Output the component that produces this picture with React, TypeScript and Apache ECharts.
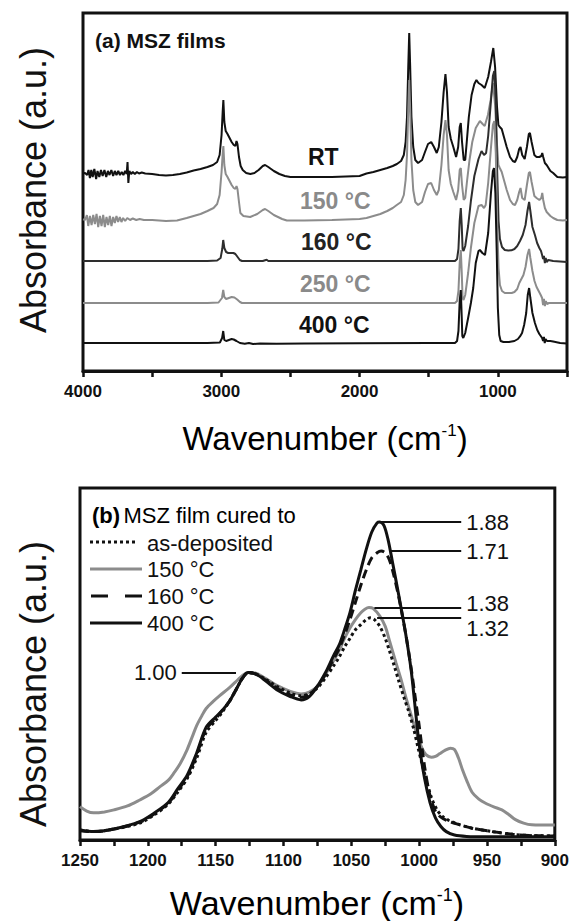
import React, { useEffect, useRef } from "react";
import * as echarts from "echarts";

const FONT = '"Liberation Sans", Arial, Helvetica, sans-serif';

// ---------- Panel (a): full FTIR spectra, [wavenumber, absorbance above own baseline] ----------
const panelALabels = ["RT", "150 °C", "160 °C", "250 °C", "400 °C"];
const panelAOffsets = [1.94, 1.51, 1.1, 0.68, 0.28];
const panelAColors = ["#111111", "#8c8c8c", "#2e2e2e", "#8c8c8c", "#111111"];

const rtSpectrum = [
  [4000, 0.037], [3985, 0.04], [3970, 0.02], [3960, 0.07], [3950, -0.01], [3940, 0.07], [3930, 0.0], [3918, 0.08],
  [3905, -0.02], [3895, 0.06], [3882, 0.0], [3870, 0.07], [3858, 0.01], [3845, 0.07], [3832, 0.0], [3820, 0.06],
  [3808, 0.02], [3795, 0.07], [3782, 0.01], [3770, 0.06], [3758, 0.02], [3745, 0.06], [3733, 0.02], [3720, 0.05],
  [3708, 0.02], [3695, 0.06], [3684, 0.03], [3678, 0.15], [3672, -0.06], [3665, 0.06], [3652, 0.03], [3640, 0.05],
  [3625, 0.03], [3610, 0.05], [3595, 0.035], [3575, 0.045], [3550, 0.035], [3500, 0.03], [3450, 0.02], [3400, 0.015],
  [3350, 0.02], [3300, 0.03], [3250, 0.045], [3200, 0.065], [3150, 0.08], [3100, 0.1], [3060, 0.12], [3030, 0.15],
  [3012, 0.22], [2998, 0.42], [2990, 0.65], [2985, 0.77], [2978, 0.55], [2968, 0.46], [2955, 0.43], [2940, 0.39],
  [2925, 0.35], [2910, 0.32], [2898, 0.31], [2890, 0.36], [2883, 0.33], [2872, 0.2], [2860, 0.11], [2845, 0.07],
  [2820, 0.04], [2790, 0.03], [2760, 0.04], [2730, 0.07], [2700, 0.11], [2683, 0.12], [2660, 0.1], [2620, 0.06],
  [2580, 0.03], [2540, 0.01], [2500, 0.0], [2400, 0.0], [2300, 0.0], [2200, 0.0], [2100, 0.005], [2000, 0.01],
  [1950, 0.035], [1900, 0.05], [1850, 0.07], [1800, 0.09], [1760, 0.11], [1730, 0.13], [1700, 0.16], [1680, 0.22],
  [1667, 0.35], [1657, 0.6], [1648, 1.1], [1641, 1.44], [1634, 1.1], [1625, 0.6], [1612, 0.3], [1597, 0.17],
  [1577, 0.14], [1548, 0.17], [1527, 0.25], [1505, 0.33], [1482, 0.35], [1462, 0.3], [1442, 0.24], [1427, 0.3],
  [1408, 0.55], [1392, 0.85], [1379, 1.03], [1368, 0.85], [1356, 0.5], [1340, 0.38], [1322, 0.3], [1302, 0.2],
  [1287, 0.3], [1276, 0.5], [1268, 0.54], [1259, 0.35], [1247, 0.17], [1236, 0.17], [1225, 0.35], [1210, 0.6],
  [1190, 0.82], [1170, 0.93], [1155, 0.97], [1140, 0.94], [1118, 0.92], [1095, 0.89], [1070, 1.0], [1050, 1.15],
  [1033, 1.29], [1020, 1.1], [1006, 0.7], [996, 0.52], [986, 0.5], [972, 0.48], [956, 0.4], [936, 0.3],
  [912, 0.2], [892, 0.16], [876, 0.15], [860, 0.2], [846, 0.28], [836, 0.3], [824, 0.22], [806, 0.18],
  [790, 0.3], [776, 0.43], [768, 0.44], [756, 0.35], [736, 0.22], [720, 0.2], [700, 0.2], [686, 0.21],
  [679, 0.24], [672, 0.2], [660, 0.14], [647, 0.12], [620, 0.06], [600, 0.04], [570, 0.0], [530, -0.005], [500, 0.0],
];

const c150Spectrum = [
  [4000, 0.007], [3985, 0.0], [3972, 0.05], [3962, -0.06], [3950, 0.04], [3938, -0.05], [3926, 0.05], [3914, -0.04],
  [3902, 0.06], [3890, -0.07], [3878, 0.04], [3866, -0.06], [3854, 0.05], [3842, -0.07], [3830, 0.03], [3818, -0.05],
  [3806, 0.04], [3794, -0.06], [3782, 0.03], [3770, -0.03], [3758, 0.04], [3746, -0.02], [3734, 0.03], [3722, -0.02],
  [3710, 0.02], [3695, -0.01], [3680, 0.02], [3660, 0.0], [3640, 0.015], [3615, 0.0], [3590, 0.01], [3560, 0.0],
  [3500, 0.0], [3400, -0.01], [3320, -0.005], [3250, 0.02], [3200, 0.04], [3150, 0.06], [3100, 0.09], [3056, 0.12],
  [3030, 0.16], [3012, 0.25], [2998, 0.48], [2990, 0.66], [2985, 0.74], [2978, 0.55], [2968, 0.46], [2955, 0.43],
  [2940, 0.39], [2925, 0.35], [2910, 0.32], [2898, 0.31], [2890, 0.34], [2883, 0.31], [2872, 0.18], [2862, 0.07],
  [2840, 0.04], [2791, 0.03], [2740, 0.06], [2700, 0.1], [2683, 0.11], [2660, 0.09], [2620, 0.05], [2560, 0.01],
  [2526, -0.005], [2400, -0.005], [2200, 0.0], [2000, 0.01], [1950, 0.02], [1900, 0.04], [1850, 0.06], [1800, 0.09],
  [1760, 0.12], [1731, 0.15], [1700, 0.18], [1680, 0.25], [1667, 0.4], [1657, 0.65], [1648, 1.1], [1641, 1.4],
  [1634, 1.1], [1625, 0.6], [1612, 0.3], [1597, 0.18], [1577, 0.15], [1548, 0.18], [1527, 0.28], [1505, 0.36],
  [1482, 0.37], [1462, 0.3], [1442, 0.25], [1427, 0.3], [1408, 0.55], [1392, 0.85], [1379, 1.0], [1368, 0.85],
  [1356, 0.5], [1340, 0.36], [1322, 0.28], [1302, 0.2], [1287, 0.3], [1276, 0.5], [1268, 0.52], [1259, 0.35],
  [1247, 0.2], [1236, 0.22], [1222, 0.4], [1205, 0.6], [1185, 0.78], [1160, 0.92], [1130, 0.99], [1110, 0.96],
  [1095, 0.94], [1072, 1.05], [1052, 1.2], [1035, 1.37], [1020, 1.15], [1006, 0.75], [996, 0.55], [986, 0.52],
  [972, 0.48], [956, 0.4], [936, 0.3], [912, 0.2], [892, 0.16], [876, 0.15], [860, 0.2], [846, 0.28],
  [836, 0.32], [824, 0.22], [806, 0.2], [790, 0.35], [776, 0.47], [768, 0.48], [756, 0.38], [736, 0.24],
  [720, 0.22], [700, 0.2], [686, 0.22], [679, 0.27], [672, 0.2], [660, 0.12], [647, 0.08], [620, 0.04],
  [600, 0.02], [570, 0.0], [530, -0.005], [500, 0.0],
];

const c160Spectrum = [
  [4000, 0.0], [3500, 0.0], [3100, 0.0], [3030, 0.005], [3005, 0.03], [2993, 0.12], [2986, 0.21], [2978, 0.13],
  [2965, 0.09], [2950, 0.08], [2930, 0.08], [2912, 0.08], [2898, 0.07], [2882, 0.04], [2866, 0.01], [2850, 0.0],
  [2700, 0.0], [2672, 0.012], [2660, 0.0], [1400, 0.0], [1310, 0.0], [1295, 0.02], [1285, 0.12], [1276, 0.4],
  [1268, 0.53], [1261, 0.35], [1255, 0.12], [1248, 0.1], [1236, 0.15], [1215, 0.35], [1195, 0.6], [1170, 0.85],
  [1140, 1.02], [1118, 1.1], [1100, 1.06], [1085, 1.08], [1070, 1.25], [1050, 1.6], [1036, 1.85], [1026, 1.9],
  [1015, 1.6], [1005, 0.9], [995, 0.4], [985, 0.22], [970, 0.14], [950, 0.11], [925, 0.105], [902, 0.107],
  [880, 0.12], [860, 0.15], [840, 0.2], [820, 0.26], [800, 0.36], [786, 0.5], [774, 0.59], [765, 0.5],
  [750, 0.34], [732, 0.26], [716, 0.18], [700, 0.13], [688, 0.1], [680, 0.06], [673, 0.02], [667, 0.05],
  [660, -0.02], [654, 0.03], [647, -0.01], [635, 0.01], [600, 0.0], [550, -0.005], [500, -0.01],
];

const c250Spectrum = [
  [4000, 0.0], [3500, 0.0], [3100, 0.0], [3020, 0.005], [2995, 0.05], [2986, 0.13], [2978, 0.06], [2965, 0.04],
  [2945, 0.05], [2925, 0.06], [2905, 0.055], [2885, 0.035], [2865, 0.01], [2850, 0.0], [1400, 0.0], [1310, 0.0],
  [1295, 0.02], [1285, 0.12], [1276, 0.4], [1268, 0.53], [1261, 0.3], [1255, 0.05], [1248, 0.03], [1236, 0.08],
  [1215, 0.3], [1195, 0.55], [1170, 0.8], [1140, 0.97], [1118, 0.98], [1100, 0.95], [1088, 0.98], [1070, 1.2],
  [1050, 1.55], [1036, 1.78], [1026, 1.82], [1015, 1.5], [1005, 0.8], [995, 0.35], [985, 0.18], [970, 0.12],
  [950, 0.1], [920, 0.1], [900, 0.1], [880, 0.11], [860, 0.14], [845, 0.2], [830, 0.24], [815, 0.28],
  [800, 0.36], [786, 0.48], [774, 0.54], [765, 0.45], [750, 0.32], [735, 0.22], [720, 0.16], [705, 0.12],
  [690, 0.08], [680, 0.05], [673, -0.02], [667, 0.04], [660, -0.03], [653, 0.02], [645, -0.01], [630, 0.0],
  [600, 0.0], [500, 0.0],
];

const c400Spectrum = [
  [4000, 0.0], [3500, 0.0], [3100, 0.0], [3010, 0.005], [2994, 0.05], [2986, 0.12], [2978, 0.03], [2965, 0.02],
  [2945, 0.03], [2925, 0.04], [2910, 0.035], [2890, 0.02], [2865, 0.0], [2830, -0.008], [2800, 0.0], [2770, -0.01],
  [2720, -0.005], [2600, -0.007], [2400, -0.005], [2000, -0.003], [1500, 0.0], [1310, 0.0], [1295, 0.02], [1285, 0.12],
  [1276, 0.42], [1268, 0.53], [1261, 0.25], [1257, 0.07], [1250, 0.05], [1236, 0.1], [1215, 0.25], [1195, 0.4],
  [1178, 0.55], [1160, 0.8], [1140, 0.92], [1130, 0.93], [1112, 0.9], [1093, 0.88], [1070, 1.1], [1050, 1.5],
  [1036, 1.72], [1028, 1.75], [1018, 1.5], [1008, 0.9], [1000, 0.35], [990, 0.08], [980, 0.02], [960, 0.01],
  [920, 0.01], [880, 0.02], [855, 0.04], [840, 0.066], [825, 0.1], [810, 0.18], [795, 0.3], [784, 0.48],
  [774, 0.55], [765, 0.45], [750, 0.3], [732, 0.2], [715, 0.13], [700, 0.09], [690, 0.07], [680, 0.05],
  [673, 0.02], [667, 0.06], [661, 0.0], [655, 0.04], [645, 0.02], [620, 0.02], [600, 0.015], [550, 0.0], [500, -0.005],
];

const panelASpectra = [rtSpectrum, c150Spectrum, c160Spectrum, c250Spectrum, c400Spectrum];

// ---------- Panel (b): Si-O-Si region normalised to the 1130 cm-1 band ----------
const panelBNames = ["150 °C", "as-deposited", "160 °C", "400 °C"];

const b150 = [
  [1250, 0.216], [1245, 0.19], [1240, 0.18], [1232, 0.185], [1225, 0.197], [1215, 0.22], [1206, 0.255], [1198, 0.29],
  [1191, 0.333], [1185, 0.37], [1181, 0.41], [1176, 0.47], [1171, 0.55], [1167, 0.63], [1164, 0.69], [1160, 0.75],
  [1157, 0.79], [1152, 0.83], [1147, 0.865], [1140, 0.91], [1134, 0.955], [1130, 0.985], [1126, 1.0], [1120, 0.995],
  [1113, 0.965], [1105, 0.925], [1095, 0.89], [1087, 0.875], [1081, 0.885], [1075, 0.92], [1069, 0.99], [1063, 1.07],
  [1059, 1.13], [1055, 1.2], [1051, 1.26], [1047, 1.31], [1043, 1.35], [1040, 1.37], [1037, 1.38], [1034, 1.375],
  [1029, 1.33], [1025, 1.27], [1022, 1.19], [1017, 1.055], [1013, 0.95], [1010, 0.86], [1007, 0.78], [1004, 0.7],
  [1001, 0.625], [998, 0.56], [995, 0.52], [991, 0.505], [988, 0.51], [985, 0.525], [981, 0.545], [977, 0.558],
  [974, 0.55], [971, 0.5], [968, 0.43], [965, 0.37], [961, 0.3], [956, 0.26], [951, 0.236], [945, 0.215],
  [939, 0.197], [934, 0.17], [929, 0.14], [923, 0.12], [917, 0.11], [910, 0.109], [900, 0.109],
];

const bAsDeposited = [
  [1250, 0.08], [1240, 0.07], [1225, 0.085], [1206, 0.12], [1195, 0.17], [1185, 0.23], [1178, 0.3], [1171, 0.38],
  [1164, 0.5], [1157, 0.65], [1150, 0.72], [1145, 0.77], [1140, 0.83], [1135, 0.9], [1130, 0.97], [1126, 1.0],
  [1120, 0.99], [1113, 0.96], [1105, 0.92], [1095, 0.88], [1087, 0.865], [1081, 0.875], [1075, 0.91], [1069, 0.97],
  [1063, 1.04], [1059, 1.09], [1055, 1.15], [1051, 1.2], [1047, 1.25], [1043, 1.28], [1039, 1.31], [1036, 1.32],
  [1033, 1.31], [1029, 1.27], [1025, 1.2], [1022, 1.13], [1018, 1.03], [1015, 0.95], [1011, 0.85], [1008, 0.78],
  [1004, 0.67], [1001, 0.567], [998, 0.47], [995, 0.38], [991, 0.27], [987, 0.2], [983, 0.16], [978, 0.135],
  [970, 0.11], [961, 0.09], [946, 0.07], [931, 0.054], [915, 0.046], [900, 0.045],
];

const b160 = [
  [1250, 0.075], [1240, 0.07], [1225, 0.085], [1206, 0.125], [1195, 0.175], [1185, 0.235], [1178, 0.31], [1171, 0.39],
  [1164, 0.52], [1157, 0.67], [1150, 0.73], [1145, 0.78], [1140, 0.83], [1135, 0.9], [1130, 0.97], [1126, 1.0],
  [1120, 0.99], [1113, 0.955], [1105, 0.91], [1095, 0.87], [1087, 0.855], [1081, 0.87], [1075, 0.92], [1069, 0.99],
  [1063, 1.08], [1059, 1.14], [1055, 1.22], [1051, 1.31], [1047, 1.41], [1043, 1.51], [1039, 1.6], [1035, 1.67],
  [1031, 1.7], [1028, 1.71], [1025, 1.7], [1022, 1.66], [1019, 1.58], [1015, 1.44], [1010, 1.23], [1006, 1.03],
  [1003, 0.86], [1000, 0.69], [996, 0.45], [992, 0.28], [988, 0.19], [984, 0.155], [978, 0.13], [970, 0.11],
  [961, 0.09], [946, 0.07], [931, 0.054], [915, 0.046], [900, 0.045],
];

const b400 = [
  [1250, 0.08], [1240, 0.07], [1225, 0.085], [1206, 0.128], [1195, 0.18], [1185, 0.24], [1178, 0.32], [1171, 0.4],
  [1164, 0.53], [1157, 0.68], [1150, 0.74], [1145, 0.78], [1140, 0.83], [1135, 0.9], [1130, 0.97], [1126, 1.0],
  [1120, 0.99], [1113, 0.95], [1105, 0.9], [1095, 0.86], [1087, 0.84], [1081, 0.86], [1075, 0.92], [1069, 1.0],
  [1063, 1.1], [1059, 1.16], [1055, 1.25], [1051, 1.35], [1047, 1.48], [1043, 1.6], [1039, 1.72], [1035, 1.82],
  [1031, 1.875], [1029, 1.88], [1026, 1.86], [1023, 1.78], [1020, 1.66], [1015, 1.45], [1010, 1.23], [1006, 1.02],
  [1003, 0.8], [1000, 0.58], [996, 0.38], [992, 0.24], [988, 0.15], [984, 0.1], [980, 0.07], [974, 0.05],
  [965, 0.042], [950, 0.04], [925, 0.04], [900, 0.04],
];

// peak-height annotations: value, start and end wavenumber of the leader line, series it belongs to
const annotValues = [1.88, 1.71, 1.38, 1.32, 1.0];
const annotStart = [1029, 1021, 1033, 1031, 1135];
const annotEnd = [969, 969, 969, 969, 1175];
const annotSeries = [3, 2, 0, 1, 3];

const panelAXTicks = { min: 500, max: 4000, step: 500, labelStep: 1000 };
const panelBXTicks = { min: 900, max: 1250, step: 25, labelStep: 50 };

function buildOption() {
  const black = "#111111";
  const axisCommon = (gridIndex: number, t: { min: number; max: number; step: number; labelStep: number }) => ({
    type: "value",
    gridIndex,
    min: t.min,
    max: t.max,
    interval: t.step,
    inverse: true,
    axisLine: { show: true, onZero: false, lineStyle: { color: black, width: 3 } },
    axisTick: { show: true, inside: false, length: 6, lineStyle: { color: black, width: 2.5 } },
    splitLine: { show: false },
    axisLabel: {
      show: true,
      showMinLabel: true,
      showMaxLabel: true,
      margin: 12,
      fontFamily: FONT,
      fontSize: 17,
      fontWeight: "bold",
      color: black,
      formatter: (v: number) => (v % t.labelStep === 0 ? String(v) : ""),
    },
  });

  const hiddenY = (gridIndex: number, min: number, max: number) => ({
    type: "value",
    gridIndex,
    min,
    max,
    axisLine: { show: false },
    axisTick: { show: false },
    axisLabel: { show: false },
    splitLine: { show: false },
  });

  const seriesA = panelASpectra.map((spec, i) => ({
    type: "line",
    name: panelALabels[i],
    xAxisIndex: 0,
    yAxisIndex: 0,
    showSymbol: false,
    symbol: "none",
    silent: true,
    lineStyle: { color: panelAColors[i], width: 2 },
    data: spec.map(([w, v]) => [w, panelAOffsets[i] + v]),
  }));

  const bStyles = [
    { data: b150, color: "#8c8c8c", type: "solid" as any },
    { data: bAsDeposited, color: black, type: [3, 3] as any },
    { data: b160, color: black, type: [9, 5] as any },
    { data: b400, color: black, type: "solid" as any },
  ];

  // label vertical shift for each series' annotations (text placed slightly off its leader line)
  const labelShape: Record<number, { formatter: string; lineHeight: number }> = {
    0: { formatter: "{b}\n ", lineHeight: 8 },
    1: { formatter: "\n{b}", lineHeight: 22 },
    2: { formatter: "{b}", lineHeight: 22 },
    3: { formatter: "{b}", lineHeight: 22 },
  };

  const seriesB = bStyles.map((s, i) => {
    const marks = annotValues
      .map((v, k) => ({ v, k }))
      .filter(({ k }) => annotSeries[k] === i)
      .map(({ v, k }) => [
        { name: v.toFixed(2), coord: [annotStart[k], v] },
        { coord: [annotEnd[k], v] },
      ]);
    return {
      type: "line",
      name: panelBNames[i],
      xAxisIndex: 1,
      yAxisIndex: 1,
      showSymbol: false,
      symbol: "none",
      silent: true,
      smooth: 0.3,
      z: 2 + i,
      lineStyle: { color: s.color, width: 3, type: s.type },
      data: s.data,
      markLine: marks.length
        ? {
            silent: true,
            symbol: ["none", "none"],
            animation: false,
            lineStyle: { color: black, width: 2, type: "solid" },
            label: {
              show: true,
              position: "end",
              distance: 5,
              formatter: labelShape[i].formatter,
              lineHeight: labelShape[i].lineHeight,
              fontFamily: FONT,
              fontSize: 22,
              color: black,
            },
            emphasis: { disabled: true },
            data: marks,
          }
        : undefined,
    };
  });

  const txt = (text: string, x: number, y: number, opts: any = {}) => ({
    type: "text",
    x,
    y,
    silent: true,
    style: {
      text,
      fontFamily: FONT,
      fontSize: 22,
      fill: black,
      textAlign: "left",
      textVerticalAlign: "middle",
      ...opts,
    },
  });

  const lineEl = (x1: number, x2: number, y: number, stroke: string, dash?: number[]) => ({
    type: "line",
    silent: true,
    shape: { x1, y1: y, x2, y2: y },
    style: { stroke, lineWidth: 3, lineDash: dash },
  });

  const yTitle = (y: number) => ({
    type: "text",
    x: 33,
    y,
    rotation: Math.PI / 2,
    silent: true,
    style: {
      text: "Absorbance (a.u.)",
      fontFamily: FONT,
      fontSize: 36,
      fill: black,
      textAlign: "center",
      textVerticalAlign: "middle",
    },
  });

  const xTitle = (x: number, y: number, size: number) => ({
    type: "text",
    x,
    y,
    silent: true,
    style: {
      text: "{a|Wavenumber (cm}{s|-1}{a|)}",
      rich: {
        a: { fontFamily: FONT, fontSize: size, color: black },
        s: { fontFamily: FONT, fontSize: Math.round(size * 0.53), color: black, verticalAlign: "top" },
      },
      textAlign: "center",
      textVerticalAlign: "middle",
    },
  });

  const graphic = [
    // panel (a)
    txt("(a) MSZ films", 95, 40, { fontSize: 21, fontWeight: "bold" }),
    txt(panelALabels[0], 308, 157, { fontSize: 23, fontWeight: "bold", fill: panelAColors[0] }),
    txt(panelALabels[1], 300, 201, { fontSize: 23, fontWeight: "bold", fill: "#8a8a8a" }),
    txt(panelALabels[2], 301, 242, { fontSize: 23, fontWeight: "bold", fill: "#222222" }),
    txt(panelALabels[3], 300, 284, { fontSize: 23, fontWeight: "bold", fill: "#8a8a8a" }),
    txt(panelALabels[4], 299, 325, { fontSize: 23, fontWeight: "bold", fill: panelAColors[4] }),
    yTitle(190),
    xTitle(325, 438, 33),
    // panel (b)
    {
      type: "text",
      x: 92,
      y: 515,
      silent: true,
      style: {
        text: "{b|(b)} {r|MSZ film cured to}",
        rich: {
          b: { fontFamily: FONT, fontSize: 22, fontWeight: "bold", color: black },
          r: { fontFamily: FONT, fontSize: 22, color: black },
        },
        textAlign: "left",
        textVerticalAlign: "middle",
      },
    },
    lineEl(90, 138, 542, black, [3, 3]),
    txt(panelBNames[1], 147, 543),
    lineEl(90, 142, 569, "#8c8c8c"),
    txt(panelBNames[0], 147, 569),
    lineEl(91, 142, 596, black, [17, 17]),
    txt(panelBNames[2], 147, 596),
    lineEl(90, 142, 623, black),
    txt(panelBNames[3], 147, 623),
    yTitle(684),
    xTitle(317, 903, 34),
  ];

  return {
    animation: false,
    backgroundColor: "#ffffff",
    grid: [
      { left: 83, top: 13, width: 484, height: 358, show: true, borderColor: black, borderWidth: 3, backgroundColor: "transparent", containLabel: false },
      { left: 80, top: 488, width: 475, height: 352, show: true, borderColor: black, borderWidth: 3, backgroundColor: "transparent", containLabel: false },
    ],
    xAxis: [axisCommon(0, panelAXTicks), axisCommon(1, panelBXTicks)],
    yAxis: [hiddenY(0, 0, 3.58), hiddenY(1, 0.021, 2.079)],
    series: [...seriesA, ...seriesB],
    graphic,
  };
}

export default function App() {
  const ref = useRef<HTMLDivElement>(null);
  useEffect(() => {
    if (!ref.current) return;
    const chart = echarts.init(ref.current, null, { renderer: "svg" });
    chart.setOption(buildOption() as any);
    return () => chart.dispose();
  }, []);
  return (
    <div
      ref={ref}
      style={{ position: "fixed", left: 0, top: 0, width: 572, height: 921, background: "#fff" }}
    />
  );
}
